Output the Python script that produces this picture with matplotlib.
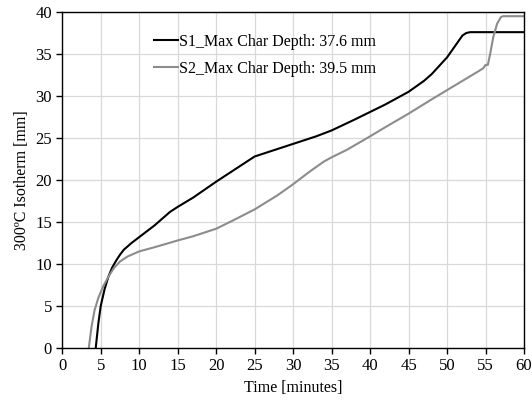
import matplotlib
matplotlib.use("Agg")
import matplotlib.pyplot as plt

# S1 (black) readings
s1_time = [4.35, 4.7, 5.0, 5.5, 6.0, 6.5, 7.0, 7.5, 8.0, 9.0, 10.0, 11.0, 12.0, 13.0, 14.0,
           15.0, 17.0, 20.0, 23.0, 25.0, 27.0, 30.0, 33.0, 35.0, 38.0, 40.0, 42.0, 45.0,
           47.0, 48.0, 49.0, 50.0, 51.0, 52.0, 52.5, 53.0, 60.0]
s1_depth = [0.0, 3.0, 5.0, 7.0, 8.5, 9.6, 10.4, 11.1, 11.7, 12.5, 13.2, 13.9, 14.6, 15.4, 16.2,
            16.8, 17.9, 19.8, 21.6, 22.8, 23.4, 24.3, 25.2, 25.9, 27.2, 28.1, 29.0, 30.5,
            31.8, 32.6, 33.6, 34.6, 35.9, 37.2, 37.5, 37.6, 37.6]

# S2 (gray) readings
s2_time = [3.45, 3.8, 4.2, 4.7, 5.3, 6.0, 6.7, 7.5, 8.5, 10.0, 12.0, 15.0, 17.0, 20.0, 22.0,
           25.0, 28.0, 30.0, 32.0, 34.0, 35.0, 37.0, 40.0, 42.0, 45.0, 48.0, 50.0, 52.0,
           54.0, 54.7, 55.0, 55.3, 55.6, 56.0, 56.5, 57.0, 57.3, 60.0]
s2_depth = [0.0, 2.5, 4.5, 6.0, 7.3, 8.5, 9.5, 10.3, 10.9, 11.5, 12.0, 12.8, 13.3, 14.2, 15.1,
            16.5, 18.2, 19.5, 20.9, 22.2, 22.7, 23.6, 25.2, 26.3, 27.9, 29.6, 30.7, 31.8,
            32.9, 33.3, 33.7, 33.7, 35.0, 37.0, 38.6, 39.4, 39.5, 39.5]

labels = ["S1_Max Char Depth: 37.6 mm", "S2_Max Char Depth: 39.5 mm"]

plt.rcParams['font.family'] = ['Liberation Serif', 'DejaVu Serif']

fig, ax = plt.subplots(figsize=(5.32, 4.0), dpi=100)
fig.subplots_adjust(left=0.117, right=0.985, top=0.97, bottom=0.13)

ax.plot(s1_time, s1_depth, color='black', lw=1.5, label=labels[0])
ax.plot(s2_time, s2_depth, color='#8c8c8c', lw=1.5, label=labels[1])

ax.set_xlim(0, 60)
ax.set_ylim(0, 40)
ax.set_xticks(range(0, 61, 5))
ax.set_yticks(range(0, 41, 5))
ax.grid(True, color='#d9d9d9', lw=0.9)
ax.set_axisbelow(True)
for s in ax.spines.values():
    s.set_color('black')
    s.set_linewidth(1.0)
ax.tick_params(direction='out', length=4, width=1.0, labelsize=12, colors='black')

ax.set_xlabel('Time [minutes]', fontsize=11.5)
ax.set_ylabel('300ºC Isotherm [mm]', fontsize=11.5)

ax.legend(loc='upper left', bbox_to_anchor=(0.167, 0.978), frameon=False, fontsize=11.5,
          handlelength=1.5, handletextpad=0.1, labelspacing=0.7)

fig.savefig('out.png', dpi=100)
